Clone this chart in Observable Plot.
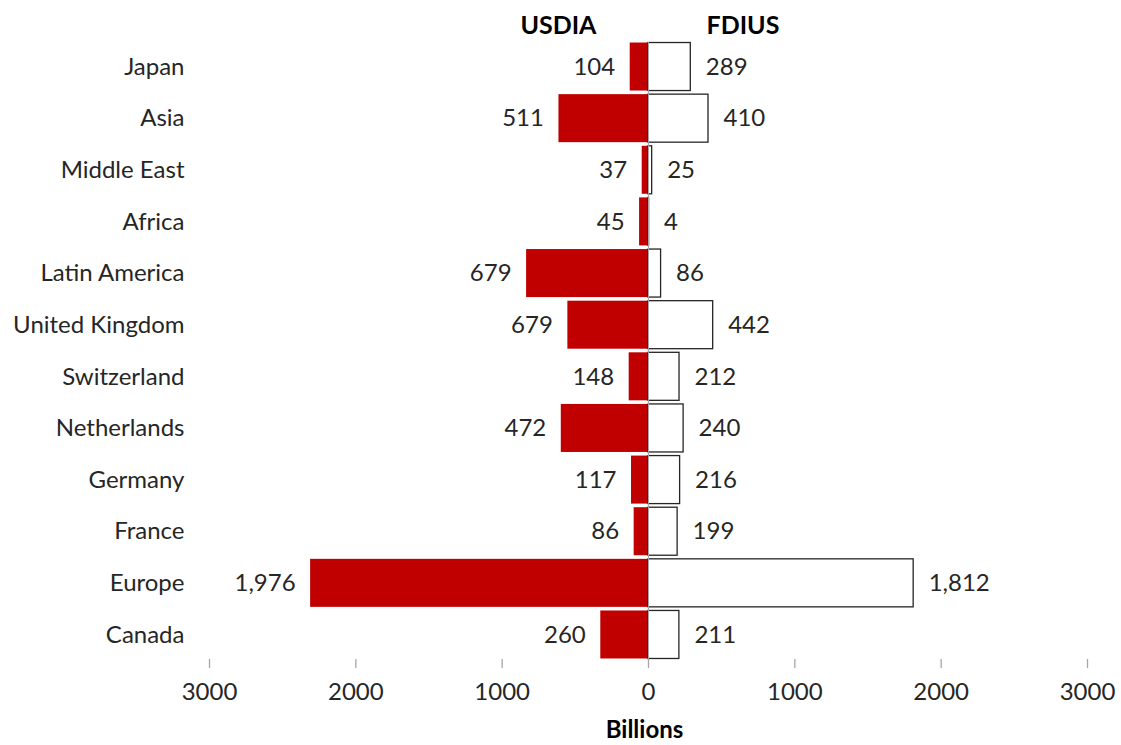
<!DOCTYPE html>
<html>
<head>
<meta charset="utf-8">
<script src="https://cdn.jsdelivr.net/npm/d3@7"></script>
<script src="https://cdn.jsdelivr.net/npm/@observablehq/plot@0.6"></script>
<style>
  html, body { margin: 0; padding: 0; background: #fff; }
  #chart svg { font-family: Lato, "Open Sans", sans-serif; }
</style>
</head>
<body>
<div id="chart"></div>
<script>
const categories = ["Japan", "Asia", "Middle East", "Africa", "Latin America", "United Kingdom",
  "Switzerland", "Netherlands", "Germany", "France", "Europe", "Canada"];
// USDIA bar lengths as drawn (billions) and their printed labels
const usdiaBar = [125, 612, 43, 61, 833, 551, 132, 596, 116, 98, 2309, 326];
const usdiaLabel = [104, 511, 37, 45, 679, 679, 148, 472, 117, 86, 1976, 260];
// FDIUS values (billions)
const fdius = [289, 410, 25, 4, 86, 442, 212, 240, 216, 199, 1812, 211];
const xTicks = [-3000, -2000, -1000, 0, 1000, 2000, 3000];
const seriesNames = ["USDIA", "FDIUS"];
const axisTitle = "Billions";

const rows = categories.map((c, i) => ({
  category: c,
  usdia: -usdiaBar[i],
  usdiaText: d3.format(",")(usdiaLabel[i]),
  fdius: fdius[i],
  fdiusText: d3.format(",")(fdius[i])
}));

const textColor = "#262626";
const fs = 24;

const chart = Plot.plot({
  width: 1121,
  height: 745,
  marginLeft: 209,
  marginRight: 34,
  marginTop: 42,
  marginBottom: 86,
  style: { fontFamily: "Lato, 'Open Sans', sans-serif", color: textColor, background: "#fff" },
  x: { domain: [-3000, 3000] },
  y: { domain: categories, paddingInner: 0.07, paddingOuter: 0.01, round: false },
  marks: [
    Plot.barX(rows, { y: "category", x1: 0, x2: "usdia", fill: "#c00000" }),
    Plot.barX(rows, { y: "category", x1: 0, x2: "fdius", fill: "#fff", stroke: "#262626", strokeWidth: 1.3 }),
    Plot.ruleX([0], { stroke: "#a6a6a6", strokeWidth: 1 }),
    Plot.text(rows, { y: "category", x: "usdia", text: "usdiaText", textAnchor: "end", dx: -15, fontSize: fs, fill: textColor }),
    Plot.text(rows, { y: "category", x: "fdius", text: "fdiusText", textAnchor: "start", dx: 15, fontSize: fs, fill: textColor }),
    Plot.axisY({ tickSize: 0, tickPadding: 25, fontSize: fs, label: null, color: textColor }),
    Plot.ruleY([0], { frameAnchor: "bottom", x1: -3000, x2: 3000, stroke: "#a6a6a6", strokeWidth: 1.3 }),
    Plot.axisX({ ticks: xTicks, tickFormat: (d) => String(Math.abs(d)), tickSize: 9, tickPadding: 14,
      fontSize: fs, stroke: "#a6a6a6", strokeWidth: 1.3, color: textColor, label: null }),
    Plot.text([axisTitle], { x: 0, frameAnchor: "bottom", lineAnchor: "top", dy: 61, text: (d) => d,
      fontWeight: "bold", fontSize: fs, fill: "#000", dx: -4 }),
    Plot.text([seriesNames[0]], { x: 0, frameAnchor: "top", lineAnchor: "bottom", dy: -9, text: (d) => d,
      textAnchor: "end", dx: -52, fontWeight: "bold", fontSize: fs + 1, fill: "#000" }),
    Plot.text([seriesNames[1]], { x: 0, frameAnchor: "top", lineAnchor: "bottom", dy: -9, text: (d) => d,
      textAnchor: "start", dx: 58, fontWeight: "bold", fontSize: fs + 1, fill: "#000" })
  ]
});
document.getElementById("chart").appendChild(chart);
</script>
</body>
</html>
